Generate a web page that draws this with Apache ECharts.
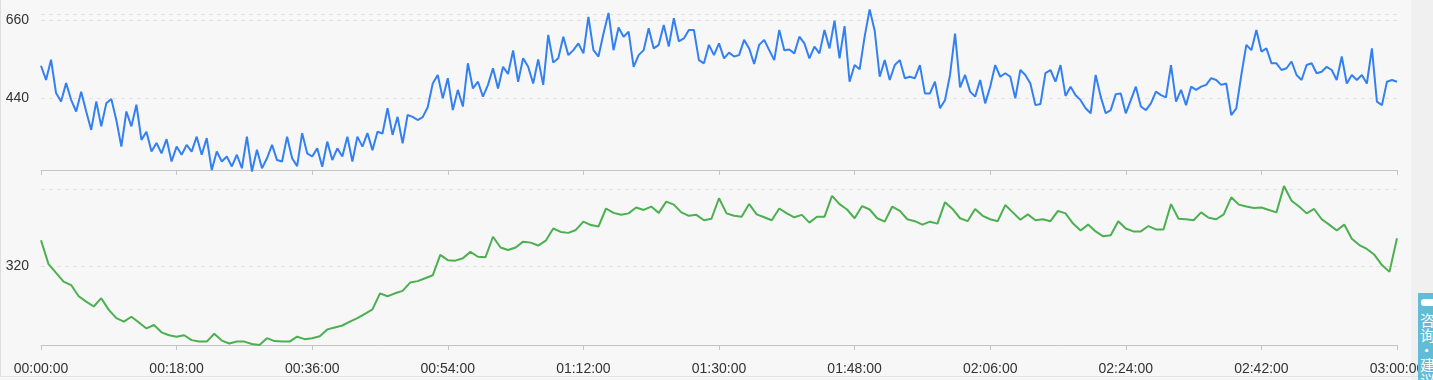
<!DOCTYPE html>
<html>
<head>
<meta charset="utf-8">
<script src="https://cdn.jsdelivr.net/npm/echarts@6/dist/echarts.min.js"></script>
<style>
  html, body { margin: 0; padding: 0; width: 1433px; height: 380px; overflow: hidden; background: #f0f0f0; }
  #wrap { position: absolute; left: 0; top: 0; width: 1433px; height: 380px;
          background: linear-gradient(to right, #f7f7f7 0, #f7f7f7 1411px, #f0f0f0 1411px); }
  #edge { position: absolute; left: 0; top: 0; width: 1px; height: 377px; background: #dedede; }
  #bottomline { position: absolute; left: 0; top: 376px; width: 1433px; height: 1px; background: #e2e2e2; }
  #chart { position: absolute; left: 0; top: 0; width: 1433px; height: 380px; }
  #widget { position: absolute; left: 1418px; top: 293px; width: 15px; height: 87px; background: #62bcd8;
            overflow: hidden; }
  #widget .icon { position: absolute; left: 3px; top: 6px; width: 14px; height: 7px; border-radius: 3px; background: #fff; }
  #widget .txt { position: absolute; left: 1px; top: 20px; width: 16px; color: #fff;
            font-family: "Noto Sans CJK SC", sans-serif; font-size: 15px; line-height: 15px;
            white-space: nowrap; writing-mode: vertical-rl; }
</style>
</head>
<body>
<div id="wrap"></div>
<div id="edge"></div>
<div id="bottomline"></div>
<div id="chart"></div>
<div id="widget"><div class="icon"></div><div class="txt">咨询·建议</div></div>
<script>
// sampling steps (seconds)
const blueStep = 40;
const greenStep = 60;
const xMax = 10800;      // 03:00:00
const xTickStep = 1080;  // 18 minutes

const topLabels = [440, 660];
const topLines = [440, 660, 677];
const bottomLabels = [320];
const bottomLines = [320, 478];

const blueValues = [
  531, 491, 548, 454, 430, 482, 435, 402, 458, 402,
  350, 430, 360, 425, 437, 378, 303, 402, 360, 421,
  322, 345, 289, 313, 284, 324, 261, 303, 280, 308,
  289, 331, 280, 327, 237, 289, 261, 275, 247, 280,
  242, 331, 233, 294, 242, 270,
  308, 265, 261, 331, 270, 248, 341, 284, 275, 298,
  246, 317, 265, 298, 275, 331, 261, 331, 303, 341,
  293, 345, 340, 411, 336, 387, 312, 392, 387, 378,
  386, 414, 481, 505, 439, 496, 406, 463, 416, 538,
  467, 486, 444, 477, 524, 467,
  528, 508, 574, 486, 552, 528, 481, 549, 477, 618,
  540, 552, 613, 561, 575, 594, 566, 669, 575, 557,
  622, 680, 575, 639, 613, 627, 528, 561, 575, 637,
  580, 590, 646, 585, 665, 600, 608, 632, 632, 547,
  538, 590, 561, 594, 552, 568,
  557, 561, 604, 580, 536, 590, 604, 575, 547, 632,
  575, 577, 566, 613, 594, 552, 585, 566, 632, 580,
  658, 552, 643, 486, 533, 521, 613, 690, 630, 500,
  547, 491, 533, 547, 496, 500, 496, 533, 453, 453,
  486, 411, 434, 505, 622, 470,
  505, 458, 444, 491, 425, 472, 533, 500, 510, 500,
  439, 519, 505, 481, 420, 423, 510, 519, 486, 533,
  446, 472, 448, 434, 411, 397, 505, 444, 397, 406,
  451, 453, 397, 434, 472, 416, 406, 425, 458, 448,
  442, 533, 430, 463, 420,
  472, 463, 472, 477, 496, 491, 477, 481, 392, 411,
  505, 590, 575, 632, 571, 580, 538, 538, 519, 524,
  543, 505, 491, 533, 538, 510, 514, 528, 519, 491,
  557, 481, 505, 491, 505, 481, 580, 430, 420, 486,
  491, 486
];

const greenValues = [
  373, 324, 306, 288, 281, 258, 247, 237, 254, 230,
  213, 206, 216, 204, 192, 199, 184, 178, 175, 178,
  168, 165, 165, 181, 167, 161, 165, 165, 160, 158,
  172, 166, 165, 165, 175, 170, 172, 176, 190, 194,
  198, 206, 213, 222, 231, 264, 258, 264,
  269, 286, 289, 295, 301, 343, 332, 331, 336, 349,
  339, 338, 380, 358, 353, 358, 370, 368, 362, 372,
  397, 390, 388, 394, 411, 404, 401, 438, 429, 425,
  428, 440, 435, 442, 429, 452, 446, 430, 423, 425,
  414, 417, 459, 428, 423, 421, 447, 426, 420, 414,
  438, 428, 420, 425, 409, 421, 421, 464, 447, 436,
  418, 443, 436, 418, 411, 442,
  433, 416, 412, 405, 411, 407, 451, 437, 418, 412,
  437, 423, 416, 412, 445, 430, 415, 426, 414, 416,
  412, 433, 428, 407, 393, 405, 391, 381, 383, 412,
  397, 391, 391, 402, 395, 395, 447, 417, 416, 414,
  430, 419, 416, 426, 461, 446, 442, 439, 440, 435,
  430, 484, 454, 442, 428, 437, 416, 405, 393, 405,
  376, 363, 355, 343, 322, 308, 377
];

function pad(n) { return (n < 10 ? '0' : '') + n; }
function fmtTime(s) {
  s = Math.round(s);
  const h = Math.floor(s / 3600), m = Math.floor((s % 3600) / 60), sec = s % 60;
  return pad(h) + ':' + pad(m) + ':' + pad(sec);
}

const blueData = blueValues.map((v, i) => [i * blueStep, v]);
const greenData = greenValues.map((v, i) => [i * greenStep, v]);

const font = "'Liberation Sans', Arial, sans-serif";
const axisLineColor = '#c4c4c4';
const splitColor = '#e2e2e2';

function xAxisDef(gridIndex, showLabel) {
  return {
    type: 'value', gridIndex: gridIndex, min: 0, max: xMax, interval: xTickStep,
    axisLine: { show: true, lineStyle: { color: axisLineColor, width: 1 } },
    axisTick: { show: true, length: 5, lineStyle: { color: axisLineColor } },
    axisLabel: { show: showLabel, formatter: fmtTime, color: '#333', fontSize: 14, fontFamily: font, margin: 17 },
    splitLine: { show: false }
  };
}
function yAxisDef(gridIndex, min, max, labels, lines) {
  return {
    type: 'value', gridIndex: gridIndex, min: min, max: max,
    axisLine: { show: false },
    axisTick: { show: false, customValues: lines },
    axisLabel: { customValues: labels, color: '#333', fontSize: 14, fontFamily: font, margin: 12 },
    splitLine: { show: true, lineStyle: { color: splitColor, type: [4, 4], width: 1 } }
  };
}

const chart = echarts.init(document.getElementById('chart'), null, { renderer: 'canvas' });
chart.setOption({
  animation: false,
  backgroundColor: 'transparent',
  grid: [
    { left: 41, right: 36, top: 14, height: 156 },
    { left: 41, right: 36, top: 189, height: 156 }
  ],
  xAxis: [xAxisDef(0, false), xAxisDef(1, true)],
  yAxis: [yAxisDef(0, 237, 677, topLabels, topLines), yAxisDef(1, 158, 478, bottomLabels, bottomLines)],
  series: [
    { type: 'line', xAxisIndex: 0, yAxisIndex: 0, data: blueData, showSymbol: false, clip: false,
      lineStyle: { color: '#3380f2', width: 2 }, itemStyle: { color: '#3380f2' } },
    { type: 'line', xAxisIndex: 1, yAxisIndex: 1, data: greenData, showSymbol: false, clip: false,
      lineStyle: { color: '#4caf50', width: 2 }, itemStyle: { color: '#4caf50' } }
  ]
});
</script>
</body>
</html>
